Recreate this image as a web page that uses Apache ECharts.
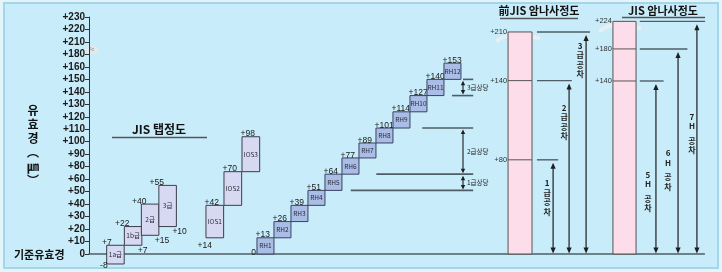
<!DOCTYPE html>
<html><head><meta charset="utf-8">
<script src="https://cdn.jsdelivr.net/npm/echarts@6/dist/echarts.min.js"></script>
<style>
html,body{margin:0;padding:0;background:#e3f4fa;}
#wrap{position:relative;width:722px;height:272px;overflow:hidden;}
#bg{position:absolute;left:3px;top:2px;width:712px;height:263px;background:#c8ecfa;border:2px solid #a3d6e8;}
#c{position:absolute;left:0;top:0;width:722px;height:272px;}
</style>
</head><body><div id="wrap"><div id="bg"></div><div id="c"></div></div>
<script>
// ---- axis tick labels (as printed in the reference) ----
const yTickLabels = ['0','+10','+20','+30','+40','+50','+60','+80','+90','+100','+110','+120','+130','+140','+150','+160','+180','+210','+220','+230'];

// ---- JIS 탭정도 : grades ----
const gradeNames = ['1a급','1b급','2급','3급'];
const gradeX = [1.04, 2.08, 3.08, 4.11];
const gradeLow = [-8, 7, 15, 22];
const gradeHigh = [7, 22, 40, 55];
const gradeTopText = ['+7','+22','+40','+55'];
const gradeBottomText = ['-8','+7','+15','+10'];

// ---- IOS classes ----
const iosNames = ['IOS1','IOS2','IOS3'];
const iosX = [6.88, 7.94, 9.0];
const iosLow = [13, 39, 66];
const iosHigh = [39, 66, 94];
const iosTopText = ['+42','+70','+98'];
const iosBottomText = ['+14','',''];

// ---- RH classes ----
const rhNames = ['RH1','RH2','RH3','RH4','RH5','RH6','RH7','RH8','RH9','RH10','RH11','RH12'];
const rhX = [9.88,10.88,11.88,12.88,13.88,14.88,15.88,16.88,17.88,18.88,19.88,20.88];
const rhLow = [0,13,26,39,51,64,77,89,101,114,127,140];
const rhHigh = [13,26,39,51,64,77,89,101,114,127,140,153];
const rhTopText = ['+13','+26','+39','+51','+64','+77','+89','+101','+114','+127','+140','+153'];

// ---- RH 등급 상당 bands ----
const bandNames = ['1급상당','2급상당','3급상당'];
const bandLow = [51, 64, 127];
const bandHigh = [64, 101, 140];
const bandArrowX = 22.0;
const bandLineLevels = [51, 64, 101, 127, 140];
const bandLineFrom = [15.4, 16.9, 19.6, 21.35, 22.0];
const bandLineTo = 22.6;

// ---- 前JIS 암나사정도 ----
const formerLabels = ['+80','+140','+210'];
const formerLevels = [75.5, 139, 178];
const formerColumn = [24.65, 26.06];
const formerLineFrom = 26.35;
const formerLineTo = [27.6, 28.4, 29.47];
const formerArrowX = [27.3, 28.24, 29.24];
const formerGrades = ['1급공차','2급공차','3급공차'];
const formerTextTop = [57, 117.5, 167];

// ---- JIS 암나사정도 ----
const jisLabels = ['+140','+180','+224'];
const jisLevels = [138.7, 164.4, 186.5];
const jisColumn = [30.82, 32.18];
const jisLineFrom = 32.4;
const jisLineTo = [33.8, 35.2, 36.24];
const jisArrowX = [33.35, 34.65, 35.76];
const jisGrades = ['5H공차','6H공차','7H공차'];
const jisTextTop = [63.9, 81, 110.1];

const NUM_FONT = '"Liberation Sans", "Noto Sans CJK KR", sans-serif';
const KR_FONT = '"Noto Sans CJK KR", "Liberation Sans", sans-serif';
const LINE_C = '#4f5e66';
const INK = '#1a1a1a';

function boxSeries(name, names, xs, lows, highs, topText, bottomText, cfg) {
  return {
    type: 'custom', name, clip: false, z: 5,
    data: xs.map((x, i) => [x, lows[i], highs[i]]),
    renderItem(params, api) {
      const i = params.dataIndex;
      const x0 = api.value(0), lo = api.value(1), hi = api.value(2);
      const tl = api.coord([x0, hi]);
      const br = api.coord([x0 + cfg.w, lo]);
      const w = br[0] - tl[0], h = br[1] - tl[1];
      const ch = [
        {type:'rect', shape:{x:tl[0], y:tl[1], width:w, height:h},
         style:{fill:cfg.fill, stroke:cfg.stroke, lineWidth:1}},
        {type:'text', x: tl[0] + w/2, y: tl[1] + h/2,
         style:{text:names[i], fontSize:6.5, fill:'#2a2a3a', align:'center', verticalAlign:'middle', fontFamily:KR_FONT}}
      ];
      const tt = topText[i];
      if (tt) {
        if (cfg.kind === 'grade') {
          ch.push({type:'text', x: tl[0] + 5, y: tl[1] + 1.5,
            style:{text:tt, fontSize:8.5, fill:INK, align:'right', verticalAlign:'bottom', fontFamily:NUM_FONT}});
        } else {
          ch.push({type:'text', x: tl[0] - 1.5, y: tl[1] + 1.5,
            style:{text:tt, fontSize:8.5, fill:INK, align:'left', verticalAlign:'bottom', fontFamily:NUM_FONT}});
        }
      }
      const bt = bottomText && bottomText[i];
      if (bt) {
        let x, y, align;
        if (cfg.kind === 'grade') {
          if (lo < 0) { x = tl[0] + 1; y = br[1] + 1.5; align = 'right'; }
          else { x = br[0] - 4; y = br[1] + 5; align = 'left'; }
        } else if (cfg.kind === 'ios') {
          x = tl[0] + 6; y = br[1] + 8; align = 'right';
        } else {
          x = tl[0] - 1; y = br[1] - 1.5; align = 'right';
        }
        ch.push({type:'text', x, y, style:{text:bt, fontSize:8.5, fill:INK, align, verticalAlign:'middle', fontFamily:NUM_FONT}});
      }
      return {type:'group', children: ch};
    }
  };
}

function arrow(x, yTop, yBot, color, hh, hw, lw) {
  return [
    {type:'line', shape:{x1:x, y1:yTop + hh - 1, x2:x, y2:yBot - hh + 1}, style:{stroke:color, lineWidth:lw}},
    {type:'polygon', shape:{points:[[x, yTop],[x - hw, yTop + hh],[x + hw, yTop + hh]]}, style:{fill:color}},
    {type:'polygon', shape:{points:[[x, yBot],[x - hw, yBot - hh],[x + hw, yBot - hh]]}, style:{fill:color}}
  ];
}

// band annotation lines
const bandLinesSeries = {
  type:'custom', name:'bandLines', clip:false, z:4,
  data: bandLineLevels.map((lv, i) => [bandLineFrom[i], bandLineTo, lv]),
  renderItem(params, api) {
    const a = api.coord([api.value(0), api.value(2)]);
    const b = api.coord([api.value(1), api.value(2)]);
    return {type:'line', shape:{x1:a[0], y1:a[1], x2:b[0], y2:b[1]}, style:{stroke:LINE_C, lineWidth:1.6}};
  }
};
const bandArrowSeries = {
  type:'custom', name:'bandArrows', clip:false, z:4,
  data: bandLow.map((lo, i) => [bandArrowX, lo, bandHigh[i]]),
  renderItem(params, api) {
    const i = params.dataIndex;
    const t = api.coord([api.value(0), api.value(2)]);
    const b = api.coord([api.value(0), api.value(1)]);
    const ch = arrow(t[0], t[1] + 1.5, b[1] - 1, '#1e1e1e', 4.5, 2.2, 1.1);
    ch.push({type:'text', x: t[0] + 4, y: (t[1] + b[1]) / 2,
      style:{text:bandNames[i], fontSize:6.5, fill:'#222', align:'left', verticalAlign:'middle', fontFamily:KR_FONT}});
    return {type:'group', children: ch};
  }
};

function panelSeries(name, col, levels, labels, lineFrom, lineTo, arrowX, grades, textTop, textDx, splitAfter) {
  return {
    type:'custom', name, clip:false, z:4,
    data: [[col[0], col[1], levels[levels.length - 1]]],
    renderItem(params, api) {
      const ch = [];
      const tl = api.coord([api.value(0), api.value(2)]);
      const br = api.coord([api.value(1), 0]);
      ch.push({type:'rect', shape:{x:tl[0], y:tl[1], width:br[0]-tl[0], height:br[1]-tl[1]},
               style:{fill:'#fcdde9', stroke:'#555', lineWidth:1}});
      levels.forEach((lv, i) => {
        const p = api.coord([col[0], lv]);
        const q = api.coord([col[1], lv]);
        if (i < levels.length - 1)
          ch.push({type:'line', shape:{x1:p[0], y1:p[1], x2:q[0], y2:q[1]}, style:{stroke:'#555', lineWidth:1}});
        ch.push({type:'text', x:p[0] - 1, y:p[1],
          style:{text:labels[i], fontSize:7.5, fill:'#333', align:'right', verticalAlign:'middle', fontFamily:NUM_FONT}});
        const a = api.coord([lineFrom, lv]);
        const b = api.coord([lineTo[i], lv]);
        ch.push({type:'line', shape:{x1:a[0], y1:a[1], x2:b[0], y2:b[1]}, style:{stroke:LINE_C, lineWidth:1.4}});
        const at = api.coord([arrowX[i], lv]);
        const ab = api.coord([arrowX[i], 0]);
        ch.push(...arrow(at[0], at[1] + 3, ab[1] - 0.5, '#1e1e1e', 6, 2.6, 1.2));
        // vertical grade text
        const chars = grades[i].split('');
        const tp = api.coord([arrowX[i], textTop[i]]);
        let rich = [];
        chars.forEach((c, k) => {
          rich.push('{a|' + c + '}');
          if (k === splitAfter - 1) rich.push('{g| }');
        });
        ch.push({type:'text', x: tp[0] + textDx[i], y: tp[1] - 4.5,
          style:{text: rich.join('\n'), align:'center', verticalAlign:'top',
            rich:{a:{fontSize:8, lineHeight:9.5, fontWeight:'bold', fill:'#222', fontFamily:KR_FONT, align:'center'},
                  g:{fontSize:4, lineHeight:5, fill:'#222'}}}});
      });
      return {type:'group', children: ch};
    }
  };
}

const chart = echarts.init(document.getElementById('c'));
const option = {
  animation: false,
  backgroundColor: 'transparent',
  grid: {left: 89, top: 17, width: 615.4, height: 237},
  xAxis: {type:'value', min:0, max:36.2,
    axisLine:{show:true, lineStyle:{color:'#4e5d64', width:1.5}},
    axisTick:{show:false}, axisLabel:{show:false}, splitLine:{show:false}},
  yAxis: {type:'value', min:0, max:190, interval:10,
    axisLine:{show:true, lineStyle:{color:'#333', width:1}},
    axisTick:{show:true, length:4, lineStyle:{color:'#333'}},
    axisLabel:{formatter: v => { const k = Math.round(v / 10); return yTickLabels[k] !== undefined ? yTickLabels[k] : ''; },
      fontSize:10, fontWeight:'bold', color:'#1a1a1a', margin:4, fontFamily:NUM_FONT},
    splitLine:{show:false}},
  series: [
    boxSeries('grades', gradeNames, gradeX, gradeLow, gradeHigh, gradeTopText, gradeBottomText,
      {w:1.03, fill:'#d6d9f1', stroke:'#3d3d4a', kind:'grade'}),
    boxSeries('ios', iosNames, iosX, iosLow, iosHigh, iosTopText, iosBottomText,
      {w:1.04, fill:'#d6d9f1', stroke:'#3d3d4a', kind:'ios'}),
    boxSeries('rh', rhNames, rhX, rhLow, rhHigh, rhTopText, ['0'],
      {w:1.0, fill:'#aabde7', stroke:'#37435e', kind:'rh'}),
    bandLinesSeries,
    bandArrowSeries,
    panelSeries('former', formerColumn, formerLevels, formerLabels, formerLineFrom, formerLineTo,
      formerArrowX, formerGrades, formerTextTop, [-6, -5, -6], 0),
    panelSeries('jis', jisColumn, jisLevels, jisLabels, jisLineFrom, jisLineTo,
      jisArrowX, jisGrades, jisTextTop, [-8, -10, -5], 2)
  ],
  graphic: [
    // titles
    {type:'text', left:'center', x:159, y:129, style:{text:'JIS 탭정도', x:0, y:0, fontSize:12, fontWeight:'bold', fill:'#111', align:'center', verticalAlign:'middle', fontFamily:KR_FONT}, left:null, top:null, position:[159,129]},
    {type:'line', shape:{x1:112, y1:137.5, x2:207, y2:137.5}, style:{stroke:'#555', lineWidth:1.5}},
    {type:'text', position:[539,11], style:{text:'前JIS 암나사정도', fontSize:11, fontWeight:'bold', fill:'#111', align:'center', verticalAlign:'middle', fontFamily:KR_FONT}},
    {type:'line', shape:{x1:500, y1:18.5, x2:578, y2:18.5}, style:{stroke:'#555', lineWidth:1.5}},
    {type:'text', position:[663,11], style:{text:'JIS 암나사정도', fontSize:11, fontWeight:'bold', fill:'#111', align:'center', verticalAlign:'middle', fontFamily:KR_FONT}},
    {type:'line', shape:{x1:622, y1:17.5, x2:705, y2:17.5}, style:{stroke:'#555', lineWidth:1.5}},
    // axis captions
    {type:'text', position:[14,255], style:{text:'기준유효경', fontSize:11, fontWeight:'bold', fill:'#111', align:'left', verticalAlign:'middle', fontFamily:KR_FONT}},
    {type:'text', position:[33,103], style:{text:'유\n효\n경\n︵\n㎛\n︶', fontSize:12, lineHeight:14, fontWeight:'bold', fill:'#111', align:'center', verticalAlign:'top', fontFamily:KR_FONT}},
    // axis break mark
    {type:'ellipse', shape:{cx:92, cy:50, rx:7, ry:4}, style:{fill:'#e4e9ec'}},
    {type:'text', position:[92,50], style:{text:'≈', fontSize:9, fill:'#8a9196', align:'center', verticalAlign:'middle'}},
    // column break marks
    {type:'bezierCurve', shape:{x1:497, y1:42, x2:540, y2:39, cpx1:500, cpy1:34, cpx2:525, cpy2:33}, style:{stroke:'rgba(235,240,242,0.9)', lineWidth:4}},
    {type:'bezierCurve', shape:{x1:508, y1:40, x2:532, y2:40, cpx1:516, cpy1:36, cpx2:524, cpy2:44}, style:{stroke:'#666', lineWidth:0.8}},
    {type:'bezierCurve', shape:{x1:600, y1:32, x2:641, y2:29, cpx1:603, cpy1:24, cpx2:627, cpy2:23}, style:{stroke:'rgba(235,240,242,0.9)', lineWidth:4}},
    {type:'bezierCurve', shape:{x1:613, y1:30, x2:636, y2:30, cpx1:620, cpy1:26, cpx2:628, cpy2:34}, style:{stroke:'#666', lineWidth:0.8}}
  ]
};
chart.setOption(option);
</script>
</body></html>
